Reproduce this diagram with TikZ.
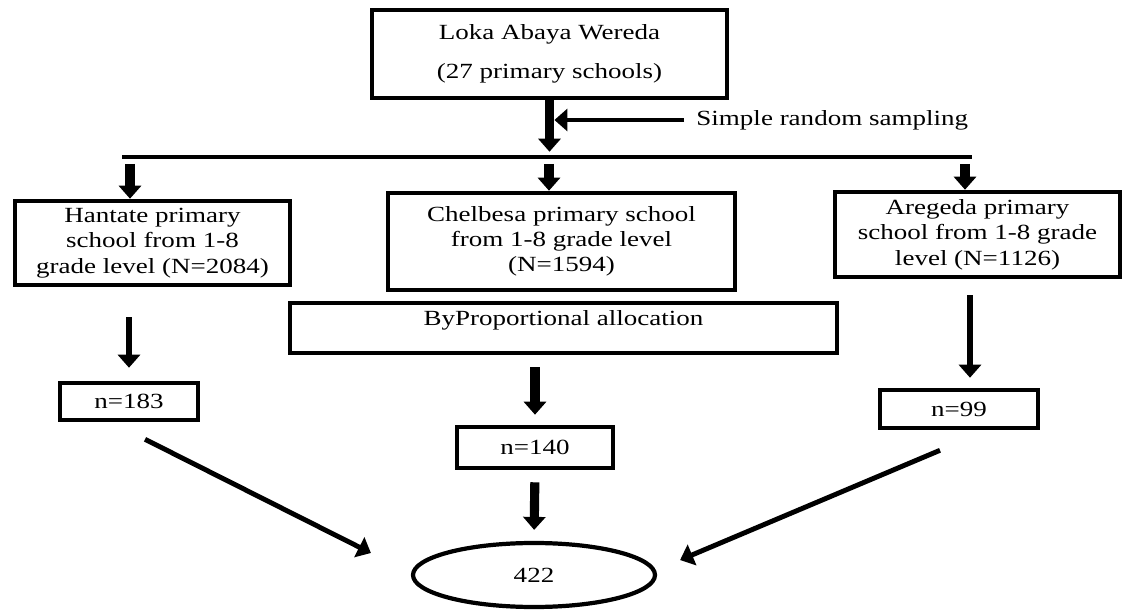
\documentclass[tikz,border=0pt]{standalone}
\usepackage{fontspec}
\setmainfont{Liberation Serif}[FakeStretch=1.25]
\usetikzlibrary{arrows.meta,shapes.geometric}

\begin{document}
\begin{tikzpicture}[
    >={Triangle[width=2.2mm,length=1.3mm]},
    every node/.style={font=\fontsize{6.15}{7.2}\selectfont},
    % boxes
    box/.style={
        draw, line width=1.3pt, align=center, inner sep=0pt
    },
    % count boxes
    nbox/.style={
        draw, line width=1.3pt, align=center, inner sep=0pt,
        minimum height=3.8mm
    },
    % total
    total/.style={
        draw, ellipse, line width=1.2pt, inner sep=0pt,
        minimum width=24.2mm, minimum height=6.4mm
    },
    % arrows
    bigarrow/.style={->, line width=2.6pt},
    midarrow/.style={->, line width=1.8pt},
    diag/.style={->, line width=1.4pt},
    samparrow/.style={->, line width=1.1pt},
    trunk/.style={-, line width=1.4pt},
]
\useasboundingbox (0,0) rectangle (11.23,6.09);

%% ── top box ──────────────────────────────────────────
\node[box, minimum width=35.5mm, minimum height=8.8mm] (top) at (5.495, 5.55)
    {Loka Abaya Wereda\\[4pt](27 primary schools)};

\node[anchor=west] (samp) at (6.84, 4.89) {Simple random sampling};

%% ── school boxes ─────────────────────────────────────
\node[box, minimum width=27.5mm, minimum height=8.4mm] (hant) at (1.525, 3.66)
    {Hantate primary\\school from 1-8\\grade level (N=2084)};
\node[box, minimum width=34.7mm, minimum height=9.7mm] (chel) at (5.615, 3.675)
    {Chelbesa primary school\\from 1-8 grade level\\(N=1594)};
\node[box, minimum width=28.5mm, minimum height=8.5mm] (areg) at (9.775, 3.745)
    {Aregeda primary\\school from 1-8 grade\\level (N=1126)};

\node[box, minimum width=54.7mm, minimum height=5mm, text depth=2mm] (prop) at (5.635, 2.81)
    {ByProportional allocation};

%% ── sample sizes ─────────────────────────────────────
\node[nbox, minimum width=13.8mm, minimum height=3.7mm] (n183) at (1.29, 2.075) {n=183};
\node[nbox, minimum width=15.6mm, minimum height=4.1mm] (n140) at (5.35, 1.615) {n=140};
\node[nbox, minimum width=15.8mm] (n99) at (9.59, 2.00) {n=99};

\node[total] (tot) at (5.34, 0.34) {422};

%% ── top → schools (trunk + branches) ─────────────────
\def\by{4.52}  % y of the branch line
\coordinate (bl) at (1.22, \by);
\coordinate (br) at (9.72, \by);

\draw[bigarrow, shorten >=1.5pt] (top.south) -- (top.south |- bl);
\draw[samparrow, shorten >=1.4pt] (samp.west) -- (samp.west -| top.south);
\draw[trunk] (bl) -- (br);
\foreach \n/\dx in {hant/-0.225, chel/-0.125, areg/-0.125}{
    \path ([xshift=\dx cm]\n.north) coordinate (\n-in);
    \draw[bigarrow, shorten <=0.7mm] (\n-in |- bl) -- (\n-in);
}

%% ── schools → sample sizes ───────────────────────────
\draw[midarrow, shorten <=3mm, shorten >=1.3mm] (n183.north |- hant.south) -- (n183.north);
\draw[bigarrow, shorten <=1.2mm, shorten >=1mm] (n140.north |- prop.south) -- (n140.north);
\path ([xshift=1.1mm]n99.north) coordinate (a99);
\draw[midarrow, shorten <=1.6mm, shorten >=1mm] (a99 |- areg.south) -- (a99);

%% ── sample sizes → total ─────────────────────────────
\draw[bigarrow, shorten <=1.2mm, shorten >=1.1mm] (n140.south) -- (tot.north);

\coordinate (d1) at ([shift={(0.16,-0.17)}]n183.south);
\coordinate (d1e) at ([shift={(-0.40,0.22)}]tot.west);
\coordinate (d2) at ([shift={(-0.19,-0.20)}]n99.south);
\coordinate (d2e) at ([shift={(0.23,0.15)}]tot.east);
\draw[diag] (d1) -- (d1e);
\draw[diag] (d2) -- (d2e);

\end{tikzpicture}
\end{document}
